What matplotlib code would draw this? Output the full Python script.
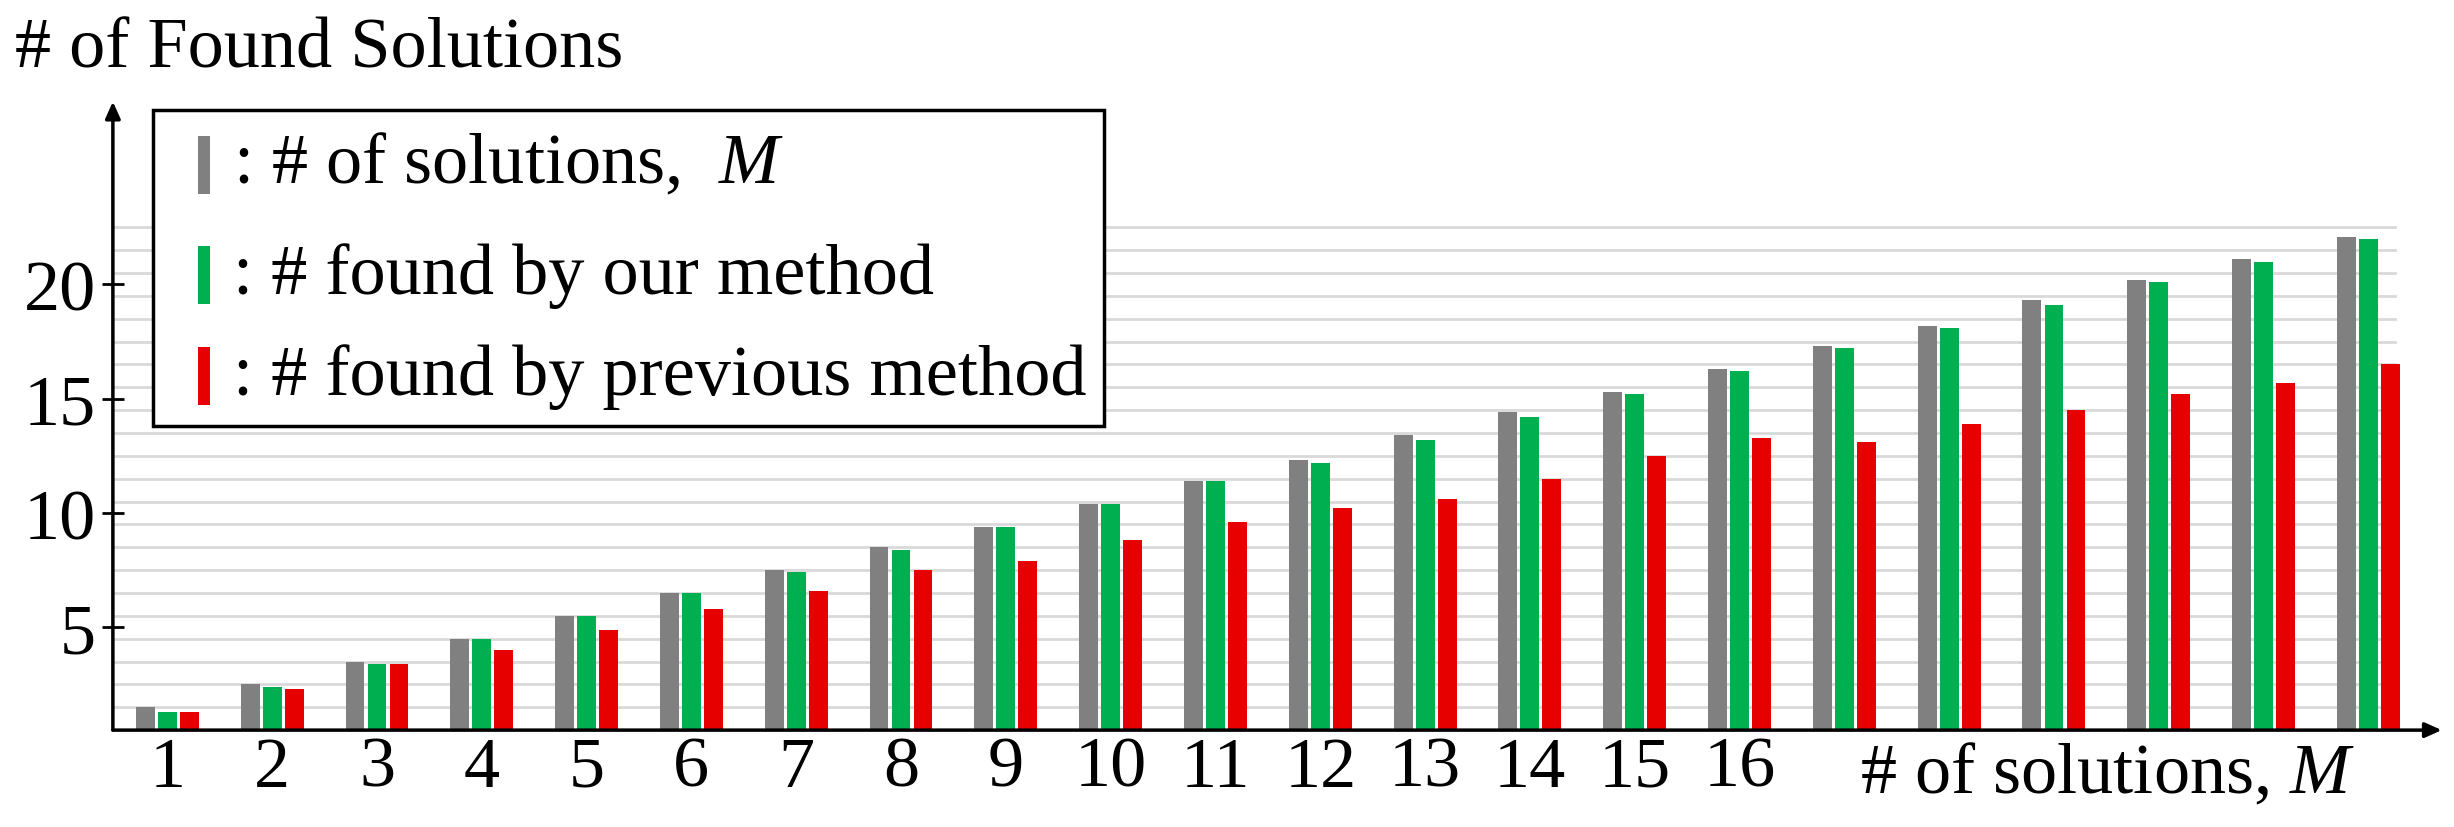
import matplotlib
matplotlib.use("Agg")
import matplotlib.pyplot as plt
from matplotlib.patches import Rectangle
import numpy as np

plt.rcParams['font.family'] = ['Liberation Serif', 'DejaVu Serif']
plt.rcParams['mathtext.fontset'] = 'custom'
plt.rcParams['mathtext.rm'] = 'Liberation Serif'
plt.rcParams['mathtext.it'] = 'Liberation Serif:italic'

M = list(range(1, 23))
gray = [1.5, 2.5, 3.5, 4.5, 5.5, 6.5, 7.5, 8.5, 9.4, 10.4, 11.4, 12.3, 13.4, 14.4, 15.3, 16.3, 17.3, 18.2, 19.3, 20.2, 21.1, 22.1]
green = [1.3, 2.4, 3.4, 4.5, 5.5, 6.5, 7.4, 8.4, 9.4, 10.4, 11.4, 12.2, 13.2, 14.2, 15.2, 16.2, 17.2, 18.1, 19.1, 20.1, 21.0, 22.0]
red = [1.3, 2.3, 3.4, 4.0, 4.9, 5.8, 6.6, 7.5, 7.9, 8.8, 9.6, 10.2, 10.6, 11.5, 12.5, 13.3, 13.1, 13.9, 14.5, 15.2, 15.7, 16.5]
xticklabels = [str(i) for i in range(1, 17)]
yticks = [5, 10, 15, 20]
grid_y = [k + 0.5 for k in range(1, 23)]

C_GRAY, C_GREEN, C_RED = '#808080', '#00b050', '#e60000'
FS = 52

fig = plt.figure(figsize=(24.54, 8.28), dpi=100)
ax = fig.add_axes([0.046, 0.117, 0.949, 0.759])
ax.set_xlim(0.48, 22.7)
ax.set_ylim(0.5, 28)
for s in ax.spines.values():
    s.set_visible(False)

for gy in grid_y:
    ax.plot([0.48, 22.25], [gy, gy], color='#d9d9d9', lw=2, zorder=0)

x = np.array(M, dtype=float)
w = 0.18
base = 0.5
ax.bar(x - 0.21, np.array(gray) - base, w, bottom=base, color=C_GRAY, zorder=2)
ax.bar(x, np.array(green) - base, w, bottom=base, color=C_GREEN, zorder=2)
ax.bar(x + 0.21, np.array(red) - base, w, bottom=base, color=C_RED, zorder=2)

ax.annotate('', xy=(1, 0), xytext=(0, 0), xycoords='axes fraction',
            arrowprops=dict(arrowstyle='-|>,head_length=1.0,head_width=0.45', color='black', lw=2.5, shrinkA=0, shrinkB=0))
ax.annotate('', xy=(0, 1), xytext=(0, 0), xycoords='axes fraction',
            arrowprops=dict(arrowstyle='-|>,head_length=1.0,head_width=0.45', color='black', lw=2.5, shrinkA=0, shrinkB=0))

ax.set_xticks(range(1, 17))
ax.set_xticklabels(xticklabels, fontsize=FS)
ax.tick_params(axis='x', length=0, pad=4)
ax.set_yticks(yticks)
ax.set_yticklabels([str(v) for v in yticks], fontsize=FS)
ax.tick_params(axis='y', direction='inout', length=16, width=2, pad=4)

fig.text(0.758, 0.063, r'# of solutions, $M$', fontsize=FS, va='center', ha='left')
fig.text(0.006, 0.94, '# of Found Solutions', fontsize=FS, va='center', ha='left')

# legend box
fig.patches.append(Rectangle((0.0625, 0.484), 0.3875, 0.382, transform=fig.transFigure,
                             facecolor='white', edgecolor='black', lw=2.5, zorder=5))
leg = [(C_GRAY, r': # of solutions,  $M$', 0.800), (C_GREEN, ': # found by our method', 0.667),
       (C_RED, ': # found by previous method', 0.545)]
for c, t, yy in leg:
    fig.patches.append(Rectangle((0.0805, yy - 0.035), 0.005, 0.07, transform=fig.transFigure,
                                 facecolor=c, edgecolor='none', zorder=6))
    fig.text(0.095, yy, t, fontsize=FS, va='center', ha='left', zorder=7)

fig.savefig('out.png', dpi=100)
